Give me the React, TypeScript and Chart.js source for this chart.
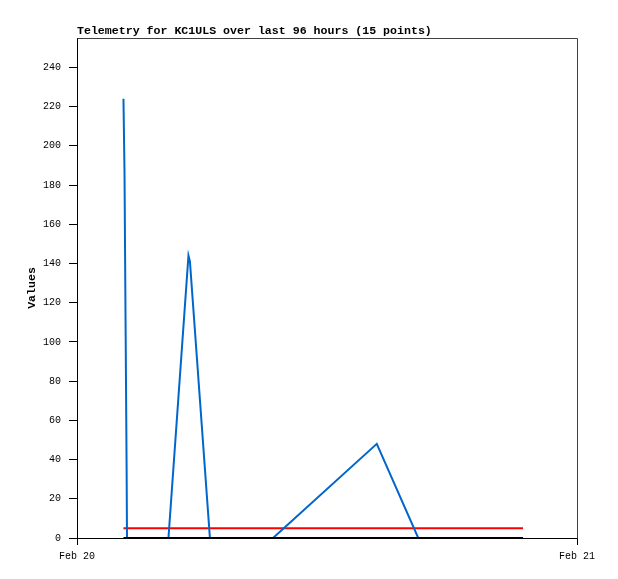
import { useEffect, useRef } from "react";
import { Chart, registerables } from "chart.js";

Chart.register(...registerables);

const TITLE = "Telemetry for KC1ULS over last 96 hours (15 points)";
const Y_TITLE = "Values";
const X_TICK_LABELS = ["Feb 20", "Feb 21"];
const X_TICK_HOURS = [0, 24];
// hours after Feb 20 00:00
const HOURS = [2.23, 2.28, 2.33, 2.38, 2.4, 3.5, 4.39, 5.35, 5.42, 6.38, 9.41, 14.39, 16.38, 18.86, 21.41];
const VALUES = [224, 187, 112, 38, 0, 0, 0, 144, 141, 0, 0, 48, 0, 0, 0];
const LIMIT = [5, 5, 5, 5, 5, 5, 5, 5, 5, 5, 5, 5, 5, 5, 5];
const BASE = [0, 0, 0, 0, 0, 0, 0, 0, 0, 0, 0, 0, 0, 0, 0];
const Y_MAX = 255;

const MONO = '"Liberation Mono", "DejaVu Sans Mono", monospace';

const framePlugin = {
  id: "frame",
  afterDraw(chart: any) {
    const { ctx, chartArea } = chart;
    ctx.save();
    ctx.strokeStyle = "#404040";
    ctx.lineWidth = 1;
    ctx.beginPath();
    ctx.moveTo(Math.round(chartArea.left) + 0.5, Math.round(chartArea.top) + 0.5);
    ctx.lineTo(Math.round(chartArea.right) + 0.5, Math.round(chartArea.top) + 0.5);
    ctx.lineTo(Math.round(chartArea.right) + 0.5, Math.round(chartArea.bottom) + 0.5);
    ctx.stroke();
    ctx.fillStyle = "#000";
    ctx.font = `bold 11.6px ${MONO}`;
    ctx.textAlign = "left";
    ctx.textBaseline = "middle";
    ctx.fillText(TITLE, chartArea.left, 31.5);
    ctx.translate(32, (chartArea.top + chartArea.bottom) / 2);
    ctx.rotate(-Math.PI / 2);
    ctx.textAlign = "center";
    ctx.fillText(Y_TITLE, 0, 0);
    ctx.restore();
  },
};

export default function App() {
  const ref = useRef<HTMLCanvasElement>(null);
  useEffect(() => {
    if (!ref.current) return;
    const mk = (d: number[]) => HOURS.map((h, i) => ({ x: h, y: d[i] }));
    const chart = new Chart(ref.current, {
      type: "line",
      data: {
        datasets: [
          { data: mk(BASE), borderColor: "#000000", borderWidth: 2, pointRadius: 0, tension: 0, clip: false },
          { data: mk(VALUES), borderColor: "#0066cc", borderWidth: 2, pointRadius: 0, tension: 0, clip: false },
          { data: mk(LIMIT), borderColor: "#ff0000", borderWidth: 2, pointRadius: 0, tension: 0, clip: false },
        ],
      },
      options: {
        responsive: false,
        animation: false,
        layout: { padding: { top: 38, right: 41, left: 0, bottom: 0 } },
        plugins: { legend: { display: false }, tooltip: { enabled: false }, title: { display: false } },
        scales: {
          x: {
            type: "linear",
            min: 0,
            max: 24,
            afterBuildTicks: (s: any) => {
              s.ticks = X_TICK_HOURS.map((v) => ({ value: v }));
            },
            afterFit: (s: any) => {
              s.height = 41;
            },
            ticks: {
              callback: (_v: any, i: number) => X_TICK_LABELS[i],
              font: { family: MONO, size: 10 },
              color: "#000",
              maxRotation: 0,
              autoSkip: false,
              padding: 5,
            },
            grid: { drawOnChartArea: false, drawTicks: true, tickLength: 7, color: "#000" },
            border: { color: "#000", width: 1 },
          },
          y: {
            min: 0,
            max: Y_MAX,
            afterFit: (s: any) => {
              s.width = 77;
            },
            ticks: {
              stepSize: 20,
              includeBounds: false,
              font: { family: MONO, size: 10 },
              color: "#000",
              padding: 8,
            },
            grid: { drawOnChartArea: false, drawTicks: true, tickLength: 8, color: "#000" },
            border: { color: "#000", width: 1 },
          },
        },
      },
      plugins: [framePlugin],
    } as any);
    return () => chart.destroy();
  }, []);
  return (
    <div style={{ position: "fixed", left: 0, top: 0, width: 618, height: 579, background: "#fff" }}>
      <canvas ref={ref} width={618} height={579} style={{ width: 618, height: 579 }} />
    </div>
  );
}
